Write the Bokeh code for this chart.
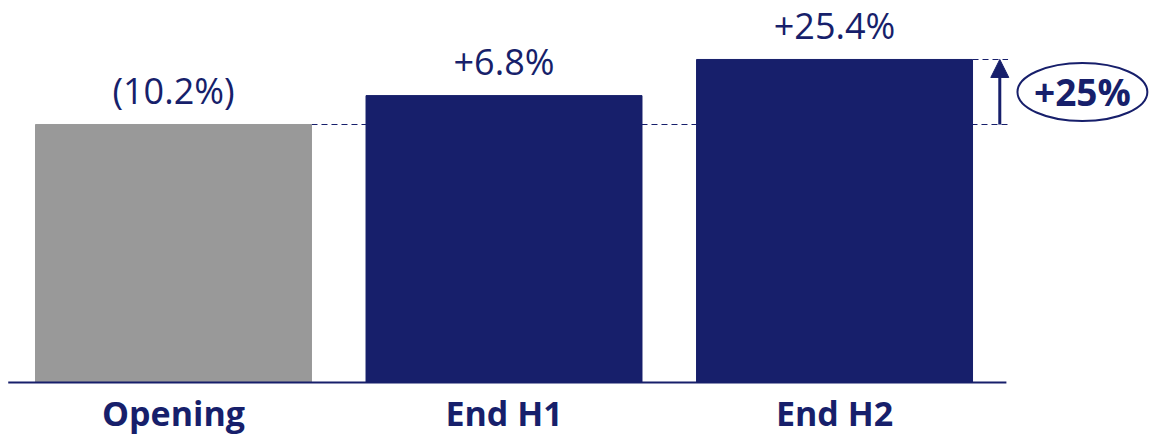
from bokeh.plotting import figure
from bokeh.models import Range1d, ColumnDataSource, Arrow, NormalHead
from bokeh.core.properties import value
from bokeh.embed import file_html
from bokeh.resources import INLINE

categories = ["Opening", "End H1", "End H2"]
values = [100.0, 111.2, 125.2]
labels = ["(10.2%)", "+6.8%", "+25.4%"]
colors = ["#999999", "#171F6B", "#171F6B"]
uplift_label = "+25%"

NAVY = "#171F6B"
FONT = "Open Sans"
xs = list(range(len(categories)))
BAR_W = 0.835

src = ColumnDataSource(dict(x=xs, top=values, label=labels, color=colors,
                            base=[0] * len(xs), cat=categories))

p = figure(width=1150, height=435, output_backend="svg", toolbar_location=None,
           x_range=Range1d(-0.5234, 2.956), y_range=Range1d(-20.54, 148.06),
           min_border_left=0, min_border_right=0, min_border_top=0, min_border_bottom=0,
           x_axis_location=None, y_axis_location=None)
p.grid.visible = False
p.outline_line_color = None
p.background_fill_color = "white"
p.border_fill_color = "white"

# reference dashed lines (drawn behind bars)
ref_end = 2.525
p.segment(x0=[xs[0] + BAR_W / 2], x1=[ref_end], y0=[values[0]], y1=[values[0]],
          line_color=NAVY, line_width=1.2, line_dash="6 4")
p.segment(x0=[xs[2] + BAR_W / 2], x1=[ref_end], y0=[values[2]], y1=[values[2]],
          line_color=NAVY, line_width=1.2, line_dash="6 4")

p.vbar(x="x", top="top", bottom=0, width=BAR_W, color="color", source=src)

p.text(x="x", y="top", text="label", source=src, text_align="center", text_baseline="alphabetic",
       y_offset=-34, text_font=value(FONT), text_font_size="36px", text_color=NAVY)

# baseline
p.segment(x0=[-0.5], x1=[2.52], y0=[0], y1=[0], line_color=NAVY, line_width=2)

# category labels
p.text(x="x", y="base", text="cat", source=src, text_align="center", text_baseline="alphabetic",
       y_offset=30, text_font=value(FONT), text_font_style="bold", text_font_size="34px",
       text_color=NAVY)

# uplift arrow
p.add_layout(Arrow(end=NormalHead(size=18, fill_color=NAVY, line_color=NAVY),
                   x_start=2.5, y_start=values[0], x_end=2.5, y_end=values[2],
                   line_color=NAVY, line_width=3))

mid = (values[0] + values[2]) / 2
p.ellipse(x=[2.75], y=[mid], width=0.393, height=22.5, fill_color=None,
          line_color=NAVY, line_width=2)
p.text(x=[2.75], y=[mid], text=[uplift_label], text_align="center", text_baseline="middle",
       text_font=value(FONT), text_font_style="bold", text_font_size="37px", text_color=NAVY)

open("out.html", "w").write(file_html(p, INLINE))
